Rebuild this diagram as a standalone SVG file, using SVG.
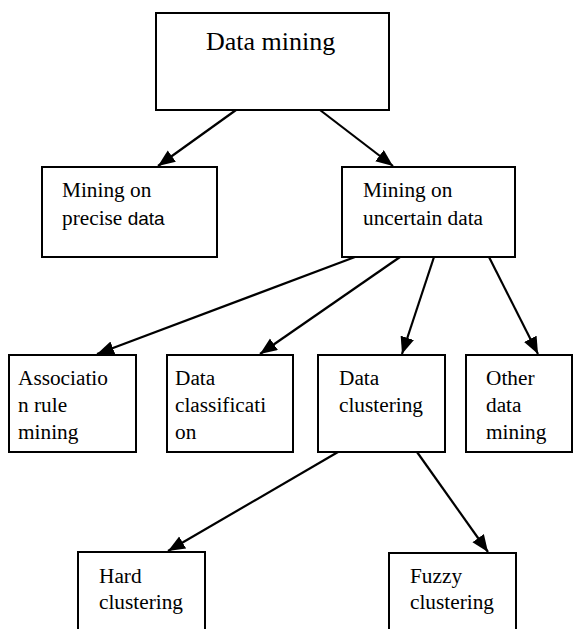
<svg xmlns="http://www.w3.org/2000/svg" width="587" height="629" viewBox="0 0 587 629">
  <style>
    .box { fill: #ffffff; stroke: #000000; stroke-width: 2; }
    .lbl { font-family: 'Liberation Serif', 'Times New Roman', serif; font-size: 21.3px; fill: #000000; }
    .title { font-size: 26px; }
    .sans { font-family: 'Liberation Sans', Arial, sans-serif; font-size: 19px; }
    .edge { stroke: #000000; stroke-width: 2.2; fill: none; marker-end: url(#arrow); }
  </style>
  <defs>
    <marker id="arrow" markerUnits="userSpaceOnUse" markerWidth="18" markerHeight="15" refX="17" refY="7" orient="auto">
      <path d="M0,0 L17,7 L0,14 z" fill="#000000"/>
    </marker>
  </defs>
  <rect width="587" height="629" fill="#ffffff"/>

  <!-- arrows between boxes -->
  <g id="connectors">
    <line class="edge" x1="236" y1="110" x2="158" y2="166"/>
    <line class="edge" x1="320" y1="110" x2="393" y2="166"/>
    <line class="edge" x1="355" y1="257" x2="97" y2="354"/>
    <line class="edge" x1="400" y1="257" x2="260" y2="354"/>
    <line class="edge" x1="434" y1="257" x2="402" y2="354"/>
    <line class="edge" x1="489" y1="257" x2="538" y2="354"/>
    <line class="edge" x1="338" y1="452" x2="168" y2="551"/>
    <line class="edge" x1="417" y1="452" x2="488" y2="552"/>
  </g>

  <g id="data-mining">
    <rect class="box" x="156" y="13" width="233" height="97"/>
    <text class="lbl title" x="206" y="50">Data mining</text>
  </g>

  <g id="precise-data">
    <rect class="box" x="42" y="167" width="175" height="90"/>
    <text class="lbl" x="62" y="197">Mining on</text>
    <text class="lbl" x="62" y="225">precise <tspan class="sans">data</tspan></text>
  </g>

  <g id="uncertain-data">
    <rect class="box" x="342" y="167" width="173" height="90"/>
    <text class="lbl" x="363" y="197">Mining on</text>
    <text class="lbl" x="363" y="225">uncertain data</text>
  </g>

  <g id="association">
    <rect class="box" x="9" y="355" width="127" height="97"/>
    <text class="lbl" x="18" y="385">Associatio</text>
    <text class="lbl" x="18" y="412">n rule</text>
    <text class="lbl" x="18" y="439">mining</text>
  </g>

  <g id="classification">
    <rect class="box" x="167" y="355" width="126" height="97"/>
    <text class="lbl" x="175" y="385">Data</text>
    <text class="lbl" x="175" y="412">classificati</text>
    <text class="lbl" x="175" y="439">on</text>
  </g>

  <g id="clustering">
    <rect class="box" x="318" y="355" width="127" height="97"/>
    <text class="lbl" x="339" y="385">Data</text>
    <text class="lbl" x="339" y="412">clustering</text>
  </g>

  <g id="other">
    <rect class="box" x="466" y="355" width="106" height="97"/>
    <text class="lbl" x="486" y="385">Other</text>
    <text class="lbl" x="486" y="412">data</text>
    <text class="lbl" x="486" y="439">mining</text>
  </g>

  <!-- bottom boxes run off the lower edge -->
  <g id="hard-clustering">
    <rect class="box" x="78" y="552" width="127" height="90"/>
    <text class="lbl" x="99" y="583">Hard</text>
    <text class="lbl" x="99" y="609">clustering</text>
  </g>

  <g id="fuzzy-clustering">
    <rect class="box" x="389" y="553" width="127" height="90"/>
    <text class="lbl" x="410" y="583">Fuzzy</text>
    <text class="lbl" x="410" y="609">clustering</text>
  </g>
</svg>
